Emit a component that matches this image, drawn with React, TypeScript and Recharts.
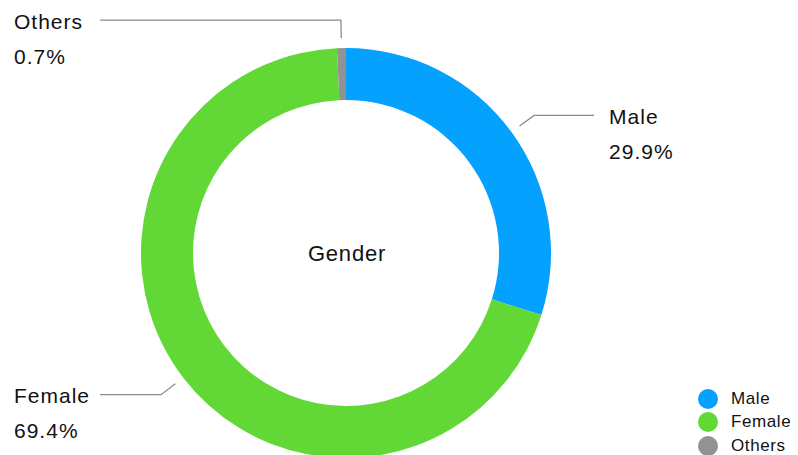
import React from "react";
import { PieChart, Pie, Cell, Legend } from "recharts";

const categories = ["Male", "Female", "Others"];
const shares = [29.9, 69.4, 0.7];
const colors = ["#04A1FE", "#61D836", "#929292"];

const data = categories.map((name, i) => ({ name, value: shares[i] }));

const RADIAN = Math.PI / 180;
const FONT = "'Liberation Sans', Arial, Helvetica, sans-serif";

const renderLabel = (props: any) => {
  const { cx, cy, midAngle, outerRadius, percent, name } = props;
  const cos = Math.cos(-midAngle * RADIAN);
  const sin = Math.sin(-midAngle * RADIAN);
  const sx = cx + (outerRadius + 10) * cos;
  const sy = cy + (outerRadius + 10) * sin;
  const mx = cx + (outerRadius + 28) * cos;
  const my = cy + (outerRadius + 28) * sin;
  const right = cos > 0;
  const ex = right ? mx + 60 : 100;
  const tx = right ? ex + 15 : 14;
  return (
    <g>
      <polyline
        points={`${sx},${sy} ${mx},${my} ${ex},${my}`}
        fill="none"
        stroke="#8c8c8c"
        strokeWidth={1.3}
      />
      <text x={tx} y={my + 1} dominantBaseline="central" fontSize={21} letterSpacing={1} fill="#111" fontFamily={FONT}>
        {name}
      </text>
      <text x={tx} y={my + 36} dominantBaseline="central" fontSize={21} letterSpacing={1} fill="#111" fontFamily={FONT}>
        {(percent * 100).toFixed(1)}%
      </text>
    </g>
  );
};

// legend drawn straight from the category list so the order stays Male/Female/Others
const renderLegend = () => (
  <div style={{ fontFamily: FONT }}>
    {categories.map((name, i) => (
      <div key={name} style={{ display: "flex", alignItems: "center", height: 23.5 }}>
        <span
          style={{
            display: "inline-block",
            width: 20,
            height: 20,
            borderRadius: 10,
            background: colors[i],
            marginRight: 13,
          }}
        />
        <span style={{ fontSize: 17, letterSpacing: 0.6, color: "#111" }}>{name}</span>
      </div>
    ))}
  </div>
);

export default function App() {
  return (
    <div style={{ position: "absolute", left: 0, top: 0, width: 798, height: 455, background: "#fff", overflow: "hidden" }}>
      <PieChart width={798} height={455} margin={{ top: 0, right: 0, bottom: 0, left: 0 }}>
        <Pie
          data={data}
          dataKey="value"
          nameKey="name"
          cx={346}
          cy={253}
          innerRadius={153}
          outerRadius={205}
          startAngle={90}
          endAngle={-270}
          stroke="none"
          label={renderLabel}
          labelLine={false}
          isAnimationActive={false}
        >
          {data.map((d, i) => (
            <Cell key={d.name} fill={colors[i]} />
          ))}
        </Pie>
        <text x={347} y={253} textAnchor="middle" dominantBaseline="central" fontSize={22} letterSpacing={0.8} fill="#111" fontFamily={FONT}>
          Gender
        </text>
        <Legend
          content={renderLegend}
          wrapperStyle={{ position: "absolute", left: 698, top: 387, width: 100, bottom: "auto", right: "auto" }}
        />
      </PieChart>
    </div>
  );
}
